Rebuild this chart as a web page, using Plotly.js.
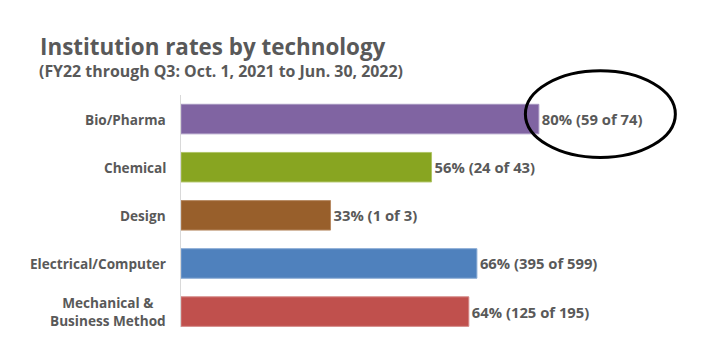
<!DOCTYPE html>
<html>
<head>
<meta charset="utf-8">
<script src="https://cdn.plot.ly/plotly-3.0.1.min.js"></script>
<style>html,body{margin:0;padding:0;background:#fff;}#chart{width:705px;height:353px;}</style>
</head>
<body>
<div id="chart"></div>
<script>
// Data
var categories = ["Bio/Pharma", "Chemical", "Design", "Electrical/Computer", "Mechanical &<br>Business Method"];
var rates = [79.7, 55.8, 33.3, 65.9, 64.1];
var labels = ["80% (59 of 74)", "56% (24 of 43)", "33% (1 of 3)", "66% (395 of 599)", "64% (125 of 195)"];
var barColors = ["#8064A2", "#88A521", "#985F2B", "#4F81BD", "#C0504D"];
var edgeColors = ["#A695C0", "#AFC466", "#B78A63", "#86A8D3", "#D38785"];

var FONT = "'Open Sans', 'Noto Sans', sans-serif";
var TXT = "#595959";

var trace = {
  type: "bar",
  orientation: "h",
  y: categories,
  x: rates,
  text: labels,
  textposition: "outside",
  cliponaxis: false,
  constraintext: "none",
  textfont: {family: FONT, size: 14.8, color: TXT, weight: 700},
  marker: {color: barColors, line: {color: edgeColors, width: 1}},
  hoverinfo: "none"
};

var annotations = categories.map(function(c){
  return {
    xref: "paper", yref: "y", x: 0, y: c, xanchor: "right", yanchor: "middle",
    xshift: -13, text: c, showarrow: false, align: "center",
    font: {family: FONT, size: 13.6, color: TXT, weight: 700}
  };
});
annotations.push({
  xref: "paper", yref: "paper", x: -0.318, y: 1.104, xanchor: "left", yanchor: "middle",
  text: "(FY22 through Q3: Oct. 1, 2021 to Jun. 30, 2022)", showarrow: false,
  borderpad: 0,
  font: {family: FONT, size: 15.9, color: TXT, weight: 700}
});

var layout = {
  width: 705, height: 353,
  margin: {l: 181, r: 75, t: 95, b: 26},
  paper_bgcolor: "#ffffff", plot_bgcolor: "#ffffff",
  showlegend: false,
  bargap: 0.387,
  title: {
    text: "Institution rates by technology",
    font: {family: FONT, size: 22.4, color: TXT, weight: 700},
    x: 40/705, xref: "container", xanchor: "left",
    y: 1 - 47/353, yref: "container", yanchor: "middle"
  },
  xaxis: {range: [0, 100], visible: false, fixedrange: true},
  yaxis: {
    type: "category", range: [4.32, -0.5], showticklabels: false,
    showline: true, linecolor: "#D9D9D9", linewidth: 1,
    showgrid: false, zeroline: false, ticks: "", fixedrange: true
  },
  annotations: annotations,
  shapes: [{
    type: "circle", xref: "paper", yref: "paper",
    x0: 0.767, x1: 1.101, y0: 0.731, y1: 1.104,
    line: {color: "#000000", width: 3}
  }]
};

Plotly.newPlot("chart", [trace], layout, {displayModeBar: false, staticPlot: true});
</script>
</body>
</html>
